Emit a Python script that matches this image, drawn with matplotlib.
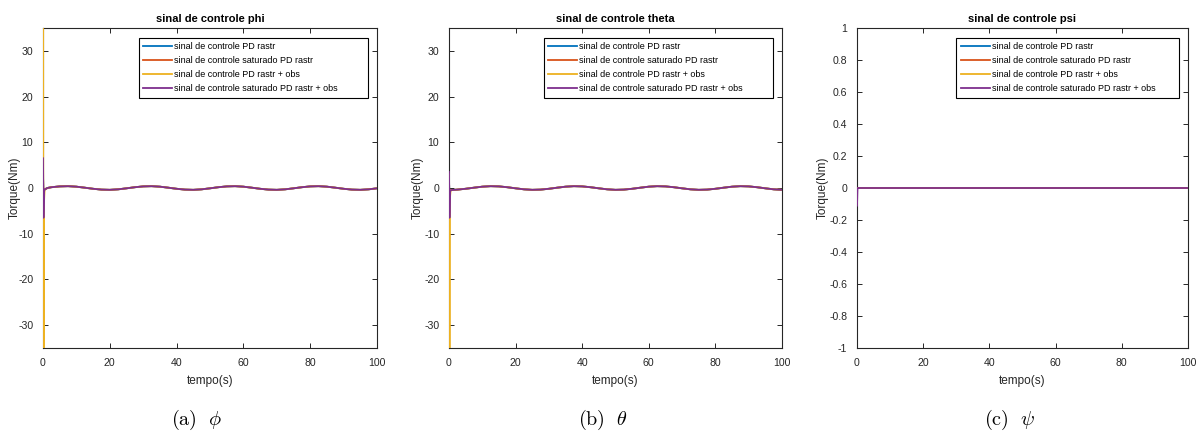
import matplotlib
matplotlib.use("Agg")
import matplotlib.pyplot as plt

plt.rcParams['font.family'] = ['Liberation Sans', 'DejaVu Sans']
plt.rcParams['mathtext.fontset'] = 'cm'

# time samples (s)
tempo = [0.0, 0.15, 0.3, 0.5, 0.8, 1.3,
         2.5, 5.0, 7.5, 10.0, 12.5, 15.0, 17.5, 20.0, 22.5, 25.0,
         27.5, 30.0, 32.5, 35.0, 37.5, 40.0, 42.5, 45.0, 47.5, 50.0,
         52.5, 55.0, 57.5, 60.0, 62.5, 65.0, 67.5, 70.0, 72.5, 75.0,
         77.5, 80.0, 82.5, 85.0, 87.5, 90.0, 92.5, 95.0, 97.5, 100.0]

# steady oscillation of the phi control torque (t >= 2.5 s)
phi_osc = [0.17, 0.35, 0.40, 0.29, 0.07, -0.17, -0.35, -0.40, -0.29, -0.07,
           0.17, 0.35, 0.40, 0.29, 0.07, -0.17, -0.35, -0.40, -0.29, -0.07,
           0.17, 0.35, 0.40, 0.29, 0.07, -0.17, -0.35, -0.40, -0.29, -0.07,
           0.17, 0.35, 0.40, 0.29, 0.07, -0.17, -0.35, -0.40, -0.29, -0.07]
# steady oscillation of the theta control torque (t >= 2.5 s)
theta_osc = [-0.35, -0.17, 0.07, 0.29, 0.40, 0.35, 0.17, -0.07, -0.29, -0.40,
             -0.35, -0.17, 0.07, 0.29, 0.40, 0.35, 0.17, -0.07, -0.29, -0.40,
             -0.35, -0.17, 0.07, 0.29, 0.40, 0.35, 0.17, -0.07, -0.29, -0.40,
             -0.35, -0.17, 0.07, 0.29, 0.40, 0.35, 0.17, -0.07, -0.29, -0.40]
psi_osc = [0.0] * 40

# initial transients (first six samples)
phi_pd_ini = [2.8, -1.5, -0.5, -0.3, -0.2, 0.0]
phi_sat_ini = [2.8, -1.5, -0.5, -0.3, -0.2, 0.0]
phi_obs_ini = [90.0, -90.0, -3.0, -0.3, -0.2, 0.0]
phi_satobs_ini = [6.5, -6.5, -0.8, -0.3, -0.2, 0.0]

theta_pd_ini = [1.5, -2.0, -0.6, -0.5, -0.45, -0.42]
theta_sat_ini = [1.5, -2.0, -0.6, -0.5, -0.45, -0.42]
theta_obs_ini = [3.0, -90.0, -2.0, -0.5, -0.45, -0.42]
theta_satobs_ini = [3.5, -6.5, -0.8, -0.5, -0.45, -0.42]

psi_pd_ini = [0.0, 0.0, 0.0, 0.0, 0.0, 0.0]
psi_sat_ini = [0.0, 0.0, 0.0, 0.0, 0.0, 0.0]
psi_obs_ini = [0.0, 0.0, 0.0, 0.0, 0.0, 0.0]
psi_satobs_ini = [-0.11, 0.0, 0.0, 0.0, 0.0, 0.0]

labels = ['sinal de controle PD rastr',
          'sinal de controle saturado PD rastr',
          'sinal de controle PD rastr + obs',
          'sinal de controle saturado PD rastr + obs']
colors = ['#0072BD', '#D95319', '#EDB120', '#7E2F8E']

titles = ['sinal de controle phi', 'sinal de controle theta', 'sinal de controle psi']
captions = [r'$\mathrm{(a)}\ \ \phi$', r'$\mathrm{(b)}\ \ \theta$', r'$\mathrm{(c)}\ \ \psi$']

panels = [
    ([phi_pd_ini, phi_sat_ini, phi_obs_ini, phi_satobs_ini], phi_osc,
     (-35, 35), [-30, -20, -10, 0, 10, 20, 30], ['-30', '-20', '-10', '0', '10', '20', '30']),
    ([theta_pd_ini, theta_sat_ini, theta_obs_ini, theta_satobs_ini], theta_osc,
     (-35, 35), [-30, -20, -10, 0, 10, 20, 30], ['-30', '-20', '-10', '0', '10', '20', '30']),
    ([psi_pd_ini, psi_sat_ini, psi_obs_ini, psi_satobs_ini], psi_osc,
     (-1, 1), [-1, -0.8, -0.6, -0.4, -0.2, 0, 0.2, 0.4, 0.6, 0.8, 1],
     ['-1', '-0.8', '-0.6', '-0.4', '-0.2', '0', '0.2', '0.4', '0.6', '0.8', '1']),
]

W, H = 1204, 441
fig = plt.figure(figsize=(W / 100, H / 100), dpi=100)

lefts = [43, 449, 857]
widths = [334, 333, 331]
legend_x0 = [0.287, 0.285, 0.300]
ylabel_x = [-0.084, -0.093, -0.103]
top_px, bot_px = 28, 348
axcol = '#262626'

for i, (inis, osc, ylim, yt, ytl) in enumerate(panels):
    ax = fig.add_axes([lefts[i] / W, (H - bot_px) / H, widths[i] / W, (bot_px - top_px) / H])
    for k in range(4):
        ax.plot(tempo, inis[k] + osc, color=colors[k], lw=1.3, label=labels[k], zorder=3)
    ax.set_xlim(0, 100)
    ax.set_ylim(*ylim)
    ax.set_xticks([0, 20, 40, 60, 80, 100])
    ax.set_xticklabels(['0', '20', '40', '60', '80', '100'])
    ax.set_yticks(yt)
    ax.set_yticklabels(ytl)
    ax.tick_params(direction='in', top=True, right=True, length=3.5, width=0.7,
                   colors=axcol, labelsize=7.6)
    ax.tick_params(axis='x', pad=7)
    ax.tick_params(axis='y', pad=7)
    for s in ax.spines.values():
        s.set_color(axcol)
        s.set_linewidth(0.8)
    ax.set_title(titles[i], fontsize=8, fontweight='bold', color='black', pad=4)
    ax.set_xlabel('tempo(s)', fontsize=8.5, color=axcol, labelpad=5)
    ax.set_ylabel('Torque(Nm)', fontsize=8.5, color=axcol, va='center')
    ax.yaxis.set_label_coords(ylabel_x[i], 0.5)
    x0 = legend_x0[i]
    leg = ax.legend(loc='upper left', bbox_to_anchor=(x0, 0.969 - 0.19, 0.973 - x0, 0.19),
                    mode='expand', borderaxespad=0,
                    fontsize=6.5, frameon=True, fancybox=False, framealpha=1,
                    edgecolor='black', labelspacing=0.55, handlelength=3.2,
                    handletextpad=0.2, borderpad=0.5)
    leg.get_frame().set_linewidth(0.8)
    cx = (lefts[i] + widths[i] / 2 - 13) / W
    fig.text(cx, 1 - 420 / H, captions[i], ha='center', va='center', fontsize=14.5)

fig.savefig('out.png', dpi=100)
